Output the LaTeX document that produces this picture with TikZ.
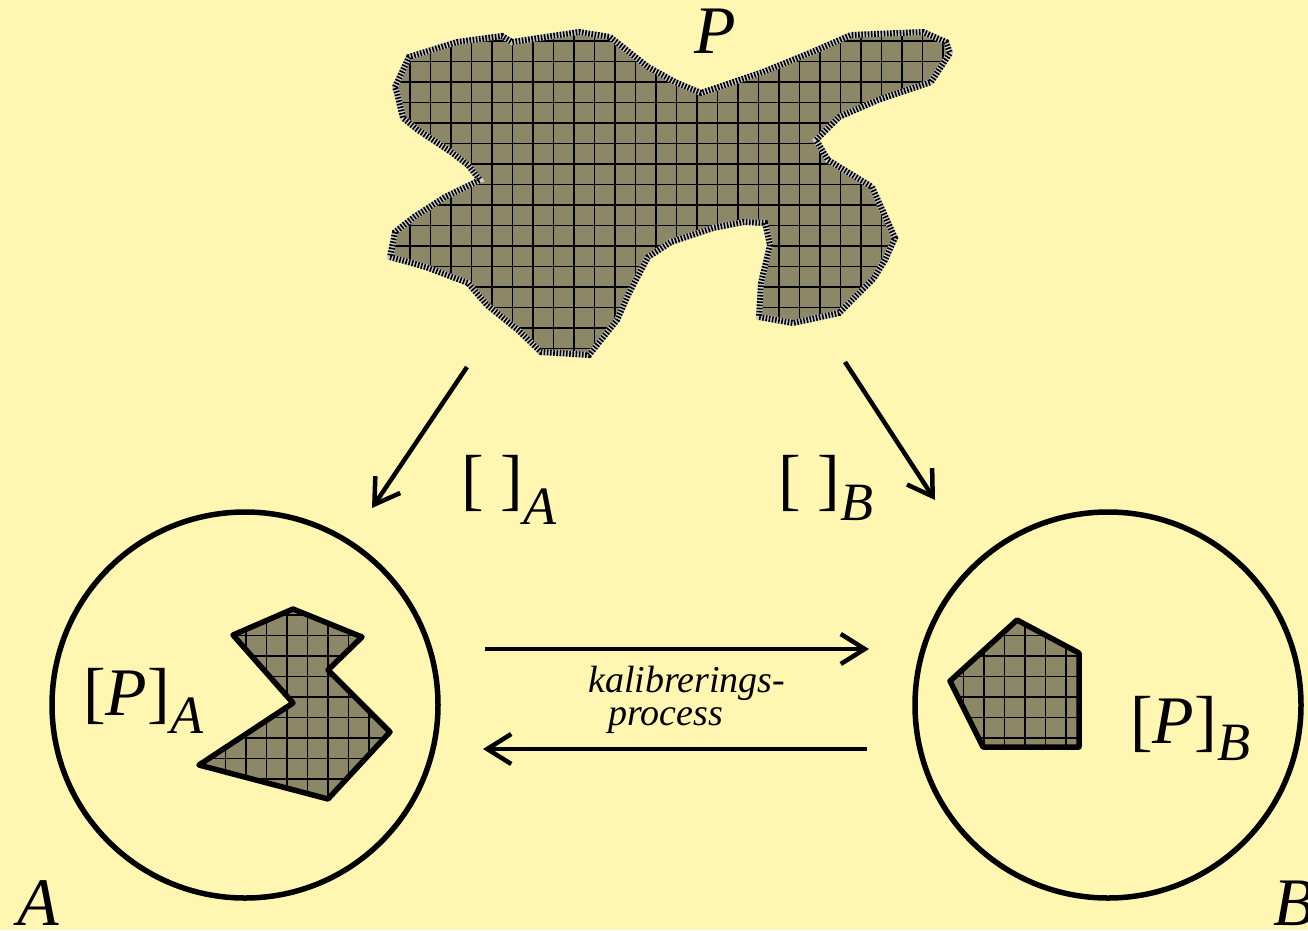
\documentclass[tikz,border=0pt]{standalone}
\usepackage{fontspec}
\setmainfont{Liberation Serif}
\usetikzlibrary{arrows.meta}

\definecolor{paper}{RGB}{255,246,178}
\definecolor{olive}{RGB}{140,135,102}

% outlines of the three areas
\newcommand\blobP{(395,87) -- (409,57) -- (457,42) -- (502,36) -- (512,42) -- (579,32) -- (610,37) -- (648,67) -- (675,82) -- (701,93) -- (763,72) -- (812,52) -- (851,35) -- (923,32) -- (946,42) -- (950,53) -- (931,82) -- (878,100) -- (839,117) -- (816,140) -- (828,160) -- (872,187) -- (881,207) -- (895,238) -- (885,260) -- (874,278) -- (839,313) -- (793,323) -- (759,317) -- (761,283) -- (770,245) -- (765,223) -- (744,222) -- (713,228) -- (671,242) -- (648,257) -- (629,293) -- (617,320) -- (589,355) -- (541,352) -- (518,330) -- (487,305) -- (468,283) -- (426,267) -- (390,257) -- (395,232) -- (414,217) -- (445,197) -- (480,180) -- (468,165) -- (451,152) -- (418,130) -- (403,118) -- (397,93) -- cycle}
\newcommand\polyA{(293,609) -- (362,637) -- (328,670) -- (390,732) -- (328,799) -- (199,765) -- (293,703) -- (233,635) -- cycle}
\newcommand\polyB{(1017,620) -- (1079,653) -- (1079,747) -- (983,747) -- (950,681) -- cycle}

\newcommand\gridfill[1]{%
  \begin{scope}
    \clip #1;
    \fill[area] #1;
    \foreach \gx in {0,20.5,...,1308} \draw[gridline] (\gx,0) -- (\gx,930);
    \foreach \gy in {0,20.5,...,930} \draw[gridline] (0,\gy) -- (1308,\gy);
  \end{scope}}
\newcommand\sub[2]{\raisebox{-#1pt}{\fontsize{54}{54}\selectfont\itshape #2}}

\begin{document}
\begin{tikzpicture}[x=1pt, y=-1pt,
    set/.style={circle, draw=black, line width=5.5pt, minimum size=386pt, inner sep=0pt},
    area/.style={fill=olive},
    gridline/.style={black, line width=1.1pt},
    rim/.style={draw=black, line width=5.5pt, line join=round},
    arrow/.style={-{Straight Barb[length=24pt,width=30pt]}, line width=4.5pt, black},
    lbl/.style={font=\fontsize{68}{68}\selectfont, inner sep=0pt},
    note/.style={font=\fontsize{38}{33}\selectfont\itshape, inner sep=0pt, align=left}
]

% background
\fill[paper] (0,0) rectangle (1308,930);
\useasboundingbox (0,0) rectangle (1308,930);

% the object P
\gridfill{\blobP}
\draw[gray!40, line width=6pt] \blobP;
\draw[black, line width=6pt, dash pattern=on 1.6pt off 1.6pt] \blobP;
\node[lbl, anchor=base] (P) at (715,53) {\textit{P}};

% the two systems
\node[set] (sysA) at (245,705) {};
\node[set] (sysB) at (1108,705) {};
\node[lbl, anchor=base west] (A) at (17,925) {\textit{A}};
\node[lbl, anchor=base west] (B) at (1273,925) {\textit{B}};

% images of P
\gridfill{\polyA}
\draw[rim] \polyA;
\gridfill{\polyB}
\draw[rim] \polyB;
\node[lbl, anchor=base west] (PA) at (83,715) {[\textit{P}]\sub{18}{A}};
\node[lbl, anchor=base west] (PB) at (1130,743) {[\textit{P}]\sub{17}{B}};

% mappings
\coordinate (mA0) at (467,367);
\coordinate (mA1) at (372,508);
\coordinate (mB0) at (845,362);
\coordinate (mB1) at (935,500);
\draw[arrow] (mA0) -- (mA1);
\draw[arrow] (mB0) -- (mB1);
\node[lbl, anchor=base west] (mapA) at (461,502) {[ ]\sub{22}{A}};
\node[lbl, anchor=base west] (mapB) at (778,502) {[ ]\sub{18}{B}};

% calibration
\coordinate (cA) at (485,649);
\coordinate (cB) at (869,649);
\coordinate (dB) at (867,749);
\coordinate (dA) at (483,749);
\draw[arrow] (cA) -- (cB);
\draw[arrow] (dB) -- (dA);
\node[note, anchor=north west] (cal) at (588,666) {kalibrerings-\\\hspace*{20pt}process};

\end{tikzpicture}
\end{document}
